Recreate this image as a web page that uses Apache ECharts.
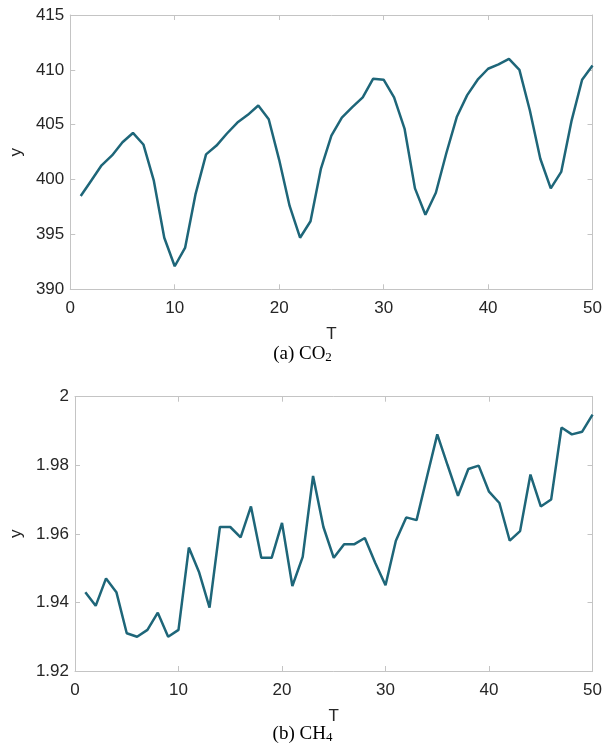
<!DOCTYPE html>
<html>
<head>
<meta charset="utf-8">
<script src="https://cdn.jsdelivr.net/npm/echarts@6/dist/echarts.min.js"></script>
<style>
html,body{margin:0;padding:0;background:#fff;}
#c{width:605px;height:749px;}
</style>
</head>
<body>
<div id="c"></div>
<script>
const T = [];
for (let i = 1; i <= 50; i++) T.push(i);
const co2 = [398.5,399.9,401.3,402.2,403.4,404.25,403.2,399.9,394.7,392.1,
             393.8,398.7,402.3,403.1,404.2,405.2,405.9,406.75,405.5,401.8,
             397.6,394.7,396.2,401.0,404.0,405.65,406.6,407.5,409.2,409.1,
             407.5,404.65,399.2,396.8,398.8,402.4,405.7,407.7,409.1,410.1,
             410.5,411.0,410.0,406.3,401.9,399.2,400.7,405.4,409.1,410.4];
const ch4 = [1.943,1.939,1.947,1.943,1.931,1.930,1.932,1.937,1.930,1.932,
             1.956,1.9487,1.9385,1.962,1.962,1.959,1.968,1.953,1.953,1.9632,
             1.9448,1.9533,1.9769,1.962,1.953,1.957,1.957,1.9588,1.9516,1.945,
             1.958,1.9648,1.964,1.9766,1.989,1.980,1.9711,1.9789,1.9799,1.9723,
             1.969,1.958,1.9608,1.9773,1.968,1.970,1.991,1.989,1.9898,1.9948];
const xTicks = [0,10,20,30,40,50];
const co2Ticks = [390,395,400,405,410,415];
const ch4Ticks = [1.92,1.94,1.96,1.98,2];
const captionA = ['(a) CO', '2'];
const captionB = ['(b) CH', '4'];

const chart = echarts.init(document.getElementById('c'));
const lineCol = '#1e6679';
const axisCol = '#c4c4c4';
const txtCol = '#262626';
const font = 'Liberation Sans, Arial, sans-serif';

function xAx(gi, show) {
  return {
    type: 'value', gridIndex: gi, min: xTicks[0], max: xTicks[xTicks.length-1],
    interval: xTicks[1]-xTicks[0], position: show ? 'bottom' : 'top',
    name: show ? 'T' : '', nameLocation: 'middle', nameGap: 37,
    nameTextStyle: {color: txtCol, fontSize: 17, fontFamily: font},
    axisLine: {show: true, onZero: false, lineStyle: {color: axisCol, width: 1}},
    axisTick: {show: true, inside: true, length: 5, lineStyle: {color: axisCol}},
    axisLabel: {show: show, color: txtCol, fontSize: 17, fontFamily: font, margin: 11},
    splitLine: {show: false}
  };
}
function yAx(gi, ticks, show, gap) {
  return {
    type: 'value', gridIndex: gi, min: ticks[0], max: ticks[ticks.length-1],
    interval: +(ticks[1]-ticks[0]).toFixed(4), position: show ? 'left' : 'right',
    name: show ? 'y' : '', nameLocation: 'middle', nameGap: gap,
    nameTextStyle: {color: txtCol, fontSize: 17, fontFamily: font},
    axisLine: {show: true, onZero: false, lineStyle: {color: axisCol, width: 1}},
    axisTick: {show: true, inside: true, length: 5, lineStyle: {color: axisCol}},
    axisLabel: {show: show, color: txtCol, fontSize: 17, fontFamily: font, margin: 6},
    splitLine: {show: false}
  };
}
function caption(parts, top) {
  return {
    type: 'text', left: 'center', top: top,
    style: {
      text: '{n|' + parts[0] + '}{s|' + parts[1] + '}',
      rich: {
        n: {fontSize: 19, fontFamily: 'Liberation Serif, Times New Roman, serif', color: '#000', verticalAlign: 'bottom', lineHeight: 24},
        s: {fontSize: 13, fontFamily: 'Liberation Serif, Times New Roman, serif', color: '#000', verticalAlign: 'bottom', lineHeight: 14}
      }
    }
  };
}

chart.setOption({
  animation: false,
  grid: [
    {left: 62, top: 15, width: 531.3, height: 274.3},
    {left: 63.3, top: 396.7, width: 533.4, height: 274.3}
  ],
  xAxis: [xAx(0, true), xAx(0, false), xAx(1, true), xAx(1, false)],
  yAxis: [yAx(0, co2Ticks, true, 41), yAx(0, co2Ticks, false, 41), yAx(1, ch4Ticks, true, 44), yAx(1, ch4Ticks, false, 44)],
  series: [
    {type: 'line', xAxisIndex: 0, yAxisIndex: 0, data: T.map((t,i)=>[t, co2[i]]),
     showSymbol: false, lineStyle: {color: lineCol, width: 2.5}, itemStyle: {color: lineCol}},
    {type: 'line', xAxisIndex: 2, yAxisIndex: 2, data: T.map((t,i)=>[t, ch4[i]]),
     showSymbol: false, lineStyle: {color: lineCol, width: 2.5}, itemStyle: {color: lineCol}}
  ],
  graphic: [caption(captionA, 345), caption(captionB, 725)]
});
</script>
</body>
</html>
